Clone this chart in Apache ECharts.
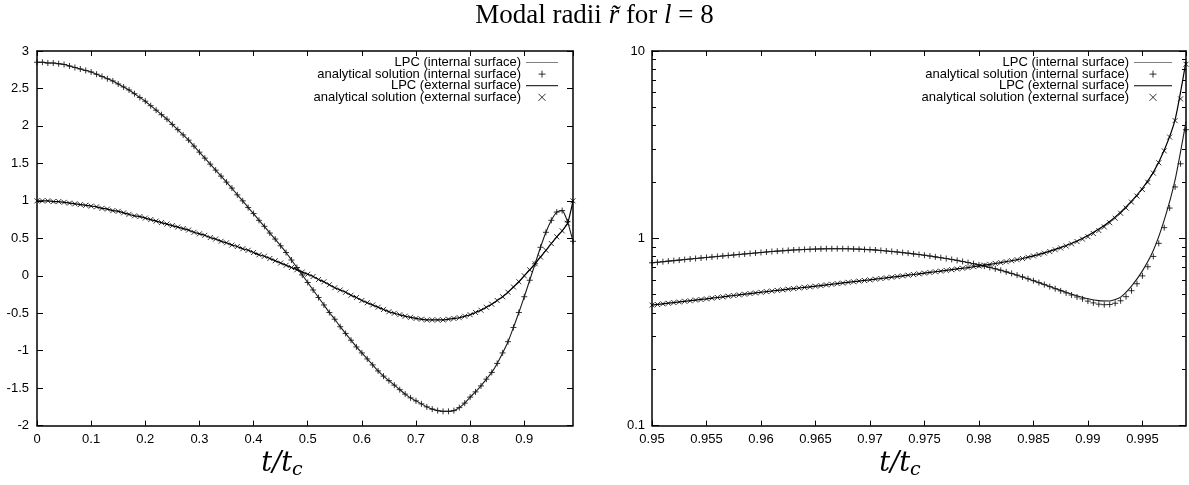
<!DOCTYPE html>
<html>
<head>
<meta charset="utf-8">
<script src="https://cdn.jsdelivr.net/npm/echarts@6/dist/echarts.min.js"></script>
<style>
  html, body { margin: 0; padding: 0; background: #fff; }
  #chart { width: 1189px; height: 485px; }
</style>
</head>
<body>
<div id="chart"></div>
<script>
// ---- data -------------------------------------------------------------
// left panel: t/t_c sampled every 0.01 from 0 to 0.99
const leftT = Array.from({ length: 100 }, (_, i) => +(i * 0.01).toFixed(2));

const leftInternal = [
  2.85, 2.85, 2.84, 2.84, 2.83, 2.82, 2.80, 2.78, 2.76, 2.74,
  2.72, 2.69, 2.66, 2.63, 2.60, 2.56, 2.52, 2.48, 2.43, 2.38,
  2.33, 2.27, 2.21, 2.15, 2.09, 2.02, 1.95, 1.88, 1.81, 1.73,
  1.65, 1.57, 1.49, 1.41, 1.33, 1.25, 1.17, 1.08, 1.00, 0.91,
  0.83, 0.74, 0.66, 0.57, 0.49, 0.40, 0.31, 0.21, 0.11, 0.01,
  -0.09, -0.19, -0.29, -0.39, -0.49, -0.58, -0.68, -0.77, -0.86, -0.95,
  -1.03, -1.11, -1.19, -1.27, -1.34, -1.40, -1.46, -1.52, -1.58, -1.63,
  -1.67, -1.71, -1.75, -1.78, -1.80, -1.81, -1.81, -1.80, -1.76, -1.70,
  -1.62, -1.55, -1.47, -1.38, -1.29, -1.17, -1.03, -0.88, -0.69, -0.49,
  -0.28, -0.06, 0.16, 0.38, 0.58, 0.74, 0.85, 0.87, 0.72, 0.46
];

const leftExternal = [
  1.00, 1.00, 1.00, 0.99, 0.99, 0.98, 0.97, 0.96, 0.95, 0.94,
  0.93, 0.92, 0.90, 0.89, 0.87, 0.86, 0.84, 0.82, 0.80, 0.79,
  0.77, 0.75, 0.73, 0.71, 0.69, 0.67, 0.65, 0.63, 0.61, 0.58,
  0.56, 0.54, 0.51, 0.49, 0.46, 0.44, 0.41, 0.39, 0.36, 0.34,
  0.31, 0.28, 0.26, 0.23, 0.20, 0.17, 0.14, 0.11, 0.08, 0.05,
  0.02, -0.01, -0.05, -0.08, -0.12, -0.16, -0.19, -0.22, -0.26, -0.29,
  -0.33, -0.36, -0.39, -0.42, -0.45, -0.48, -0.50, -0.52, -0.54, -0.555,
  -0.57, -0.58, -0.59, -0.59, -0.59, -0.59, -0.58, -0.57, -0.56, -0.54,
  -0.52, -0.49, -0.46, -0.42, -0.38, -0.33, -0.28, -0.22, -0.15, -0.08,
  0.00, 0.08, 0.16, 0.25, 0.34, 0.43, 0.52, 0.60, 0.70, 1.00
];

// right panel, analytical solution: t/t_c every 0.0005 from 0.95 to 0.999
const rightAnaT = Array.from({ length: 99 }, (_, i) => +(0.95 + i * 0.0005).toFixed(4));

const rightAnaInternal = [
  0.740, 0.745, 0.750, 0.755, 0.760, 0.765, 0.770, 0.775, 0.780, 0.785,
  0.790, 0.795, 0.800, 0.805, 0.810, 0.815, 0.820, 0.825, 0.830, 0.835,
  0.840, 0.845, 0.850, 0.854, 0.858, 0.862, 0.866, 0.869, 0.872, 0.874,
  0.876, 0.878, 0.879, 0.880, 0.880, 0.880, 0.879, 0.877, 0.875, 0.872,
  0.870, 0.866, 0.861, 0.856, 0.851, 0.845, 0.839, 0.833, 0.826, 0.819,
  0.812, 0.804, 0.796, 0.788, 0.780, 0.771, 0.762, 0.752, 0.742, 0.732,
  0.721, 0.710, 0.699, 0.687, 0.675, 0.662, 0.649, 0.636, 0.622, 0.608,
  0.594, 0.580, 0.566, 0.552, 0.538, 0.524, 0.511, 0.498, 0.486, 0.475,
  0.462, 0.452, 0.445, 0.442, 0.443, 0.450, 0.464, 0.488, 0.525, 0.572,
  0.630, 0.705, 0.800, 0.940, 1.140, 1.450, 1.880, 2.500, 3.800
];

const rightAnaExternal = [
  0.440, 0.443, 0.447, 0.450, 0.454, 0.457, 0.461, 0.464, 0.468, 0.471,
  0.475, 0.479, 0.483, 0.487, 0.491, 0.495, 0.499, 0.503, 0.507, 0.511,
  0.515, 0.519, 0.523, 0.527, 0.531, 0.535, 0.539, 0.543, 0.547, 0.551,
  0.555, 0.559, 0.564, 0.568, 0.573, 0.577, 0.582, 0.586, 0.591, 0.595,
  0.600, 0.605, 0.610, 0.615, 0.620, 0.625, 0.630, 0.635, 0.641, 0.646,
  0.652, 0.657, 0.663, 0.668, 0.674, 0.680, 0.686, 0.692, 0.698, 0.705,
  0.712, 0.719, 0.726, 0.734, 0.742, 0.750, 0.759, 0.769, 0.780, 0.792,
  0.805, 0.819, 0.834, 0.850, 0.868, 0.888, 0.910, 0.934, 0.961, 0.990,
  1.020, 1.060, 1.100, 1.150, 1.210, 1.280, 1.360, 1.450, 1.560, 1.680,
  1.820, 1.990, 2.230, 2.530, 2.930, 3.470, 4.250, 5.550, 8.500
];

// right panel, LPC: t/t_c every 0.001 from 0.95 to 0.999
const rightLpcT = Array.from({ length: 50 }, (_, i) => +(0.95 + i * 0.001).toFixed(3));

const rightLpcInternal = [
  0.740, 0.750, 0.760, 0.770, 0.780, 0.790, 0.800, 0.810, 0.820, 0.830,
  0.840, 0.850, 0.858, 0.866, 0.872, 0.876, 0.879, 0.880, 0.879, 0.875,
  0.870, 0.861, 0.851, 0.839, 0.826, 0.812, 0.796, 0.780, 0.762, 0.742,
  0.721, 0.699, 0.675, 0.649, 0.622, 0.594, 0.566, 0.540, 0.515, 0.493,
  0.476, 0.465, 0.463, 0.485, 0.555, 0.670, 0.860, 1.250, 2.050, 4.200
];

const rightLpcExternal = [
  0.440, 0.447, 0.454, 0.461, 0.468, 0.475, 0.483, 0.491, 0.499, 0.507,
  0.515, 0.523, 0.531, 0.539, 0.547, 0.555, 0.564, 0.573, 0.582, 0.591,
  0.600, 0.610, 0.620, 0.630, 0.641, 0.652, 0.663, 0.674, 0.686, 0.698,
  0.712, 0.726, 0.742, 0.759, 0.780, 0.805, 0.836, 0.872, 0.915, 0.968,
  1.035, 1.120, 1.230, 1.380, 1.580, 1.850, 2.250, 2.950, 4.300, 8.800
];

const seriesNames = [
  'LPC (internal surface)',
  'analytical solution (internal surface)',
  'LPC (external surface)',
  'analytical solution (external surface)'
];

const logMinorTicks = [0.2, 0.3, 0.4, 0.5, 0.6, 0.7, 0.8, 0.9, 2, 3, 4, 5, 6, 7, 8, 9];

// ---- styling helpers ----------------------------------------------------
const SANS = '"Liberation Sans", Arial, Helvetica, sans-serif';
const SERIF = '"Liberation Serif", "DejaVu Serif", serif';
const MATH = '"DejaVu Serif", "Liberation Serif", serif';
const PLUS = 'path://M0,5L10,5M5,0L5,10';
const CROSS = 'path://M0,0L10,10M10,0L0,10';
const BORDER = { color: '#000', width: 1.5 };

const pair = (xs, ys) => xs.map((x, i) => [x, ys[i]]);

const nameRich = {
  i: { fontFamily: MATH, fontStyle: 'italic', fontSize: 27, lineHeight: 32, color: '#000' },
  s: { fontFamily: MATH, fontStyle: 'italic', fontSize: 19, lineHeight: 19, color: '#000', verticalAlign: 'bottom' }
};

function xAxisPair(grid, min, max, interval, shiftLeft, fmt) {
  const common = {
    type: 'value', gridIndex: grid, min, max, interval,
    splitLine: { show: false },
    axisLine: { show: true, onZero: false, lineStyle: BORDER },
    axisTick: { show: true, inside: true, length: 5, lineStyle: { color: '#000', width: 1 } }
  };
  return [
    Object.assign({}, common, {
      position: 'bottom',
      axisLabel: {
        color: '#000', fontFamily: SANS, fontSize: 13, margin: 7,
        showMaxLabel: false, formatter: fmt
      },
      name: '{i|t/t}{s|c}',
      nameLocation: 'middle',
      nameGap: 11,
      nameTextStyle: { rich: nameRich, padding: [0, shiftLeft * 2, 0, 0] }
    }),
    Object.assign({}, common, { position: 'top', axisLabel: { show: false } })
  ];
}

function linearYAxes(grid) {
  const common = {
    type: 'value', gridIndex: grid, min: -2, max: 3, interval: 0.5,
    splitLine: { show: false },
    axisLine: { show: true, onZero: false, lineStyle: BORDER },
    axisTick: { show: true, inside: true, length: 6, lineStyle: { color: '#000', width: 1 } }
  };
  return [
    Object.assign({}, common, {
      position: 'left',
      axisLabel: { color: '#000', fontFamily: SANS, fontSize: 13, margin: 8 }
    }),
    Object.assign({}, common, { position: 'right', axisLabel: { show: false } })
  ];
}

function logYAxes(grid) {
  const base = {
    type: 'log', logBase: 10, gridIndex: grid, min: 0.1, max: 10,
    splitLine: { show: false }
  };
  const major = Object.assign({}, base, {
    axisLine: { show: true, onZero: false, lineStyle: BORDER },
    axisTick: { show: true, inside: true, length: 7, lineStyle: { color: '#000', width: 1 } }
  });
  const minor = Object.assign({}, base, {
    axisLine: { show: false },
    axisTick: { show: true, inside: true, length: 4, customValues: logMinorTicks, lineStyle: { color: '#000', width: 1 } },
    axisLabel: { show: false }
  });
  return [
    Object.assign({}, major, {
      position: 'left',
      axisLabel: { color: '#000', fontFamily: SANS, fontSize: 13, margin: 7 }
    }),
    Object.assign({}, minor, { position: 'left' }),
    Object.assign({}, major, { position: 'right', axisLabel: { show: false } }),
    Object.assign({}, minor, { position: 'right' })
  ];
}

function legendFor(rightPx, iconWidth) {
  const stroke = `path://M0,0L${iconWidth},0L${iconWidth},1L0,1Z`;
  return {
    data: [
      { name: seriesNames[0], icon: stroke, itemStyle: { color: '#808080', borderWidth: 0 } },
      { name: seriesNames[1] },
      { name: seriesNames[2], icon: stroke, itemStyle: { color: '#000', borderWidth: 0 } },
      { name: seriesNames[3] }
    ],
    selectedMode: false,
    orient: 'vertical',
    align: 'right',
    right: rightPx,
    top: 56,
    padding: 0,
    itemGap: -1.4,
    itemWidth: iconWidth,
    itemHeight: 7,
    itemStyle: { borderWidth: 1, borderColor: '#000' },
    textStyle: { fontFamily: SANS, fontSize: 13, color: '#000', lineHeight: 11.6 }
  };
}

function curveSeries(x, y, t1, intLine, intPts, t2, extLine, extPts) {
  return [
    {
      name: seriesNames[0], type: 'line', xAxisIndex: x, yAxisIndex: y,
      data: pair(t1, intLine), symbol: 'none', smooth: 0.2,
      lineStyle: { color: '#1a1a1a', width: 1.1 }, itemStyle: { color: '#1a1a1a' }
    },
    {
      name: seriesNames[1], type: 'scatter', xAxisIndex: x, yAxisIndex: y,
      data: pair(t2, intPts), symbol: PLUS, symbolSize: 6,
      itemStyle: { color: 'transparent', borderColor: '#000', borderWidth: 1 }
    },
    {
      name: seriesNames[2], type: 'line', xAxisIndex: x, yAxisIndex: y,
      data: pair(t1, extLine), symbol: 'none', smooth: 0.2,
      lineStyle: { color: '#000', width: 1.2 }, itemStyle: { color: '#000' }
    },
    {
      name: seriesNames[3], type: 'scatter', xAxisIndex: x, yAxisIndex: y,
      data: pair(t2, extPts), symbol: CROSS, symbolSize: 5,
      itemStyle: { color: 'transparent', borderColor: '#000', borderWidth: 1 }
    }
  ];
}

const threeDecimals = v => String(+v.toFixed(3));

const option = {
  animation: false,
  backgroundColor: '#fff',
  title: {
    text: '{n|Modal radii }{i|r\u0303}{n| for }{i|l}{n| = 8}',
    left: 'center',
    top: 1,
    padding: 0,
    textStyle: {
      fontWeight: 'normal',
      rich: {
        n: { fontFamily: SERIF, fontWeight: 'normal', fontSize: 27, color: '#000', lineHeight: 30 },
        i: { fontFamily: SERIF, fontWeight: 'normal', fontStyle: 'italic', fontSize: 27, color: '#000', lineHeight: 30 }
      }
    }
  },
  legend: [legendFor(631, 32), legendFor(17, 38)],
  grid: [
    { left: 37, right: 616, top: 51, bottom: 49, containLabel: false },
    { left: 652, right: 3, top: 51, bottom: 49, containLabel: false }
  ],
  xAxis: [
    ...xAxisPair(0, 0, 0.99, 0.1, 23, v => String(+v.toFixed(2))),
    ...xAxisPair(1, 0.95, 0.999, 0.005, 19, threeDecimals)
  ],
  yAxis: [
    ...linearYAxes(0),
    ...logYAxes(1)
  ],
  series: [
    ...curveSeries(0, 0, leftT, leftInternal, leftInternal, leftT, leftExternal, leftExternal),
    ...curveSeries(2, 2, rightLpcT, rightLpcInternal, rightAnaInternal, rightAnaT, rightLpcExternal, rightAnaExternal)
  ]
};

const chart = echarts.init(document.getElementById('chart'), null, { renderer: 'canvas' });
chart.setOption(option);
</script>
</body>
</html>
